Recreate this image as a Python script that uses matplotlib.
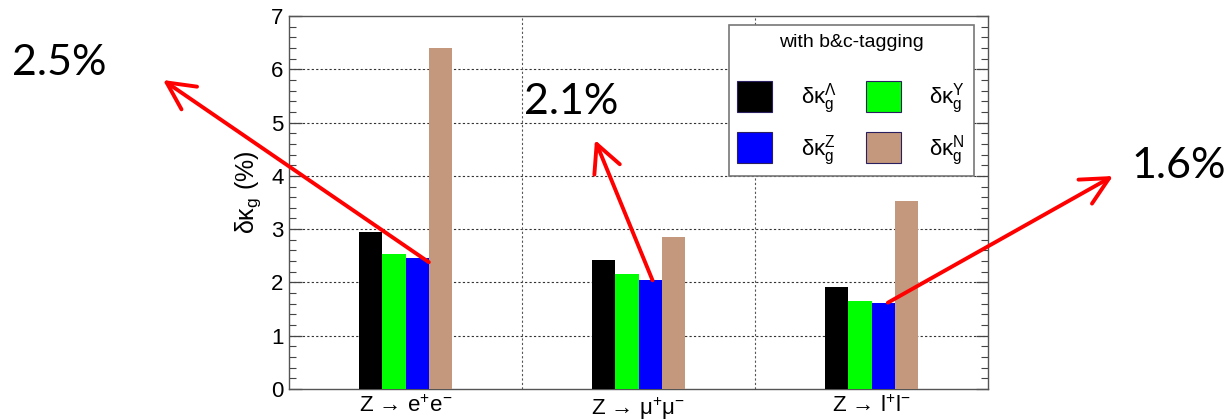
import matplotlib
matplotlib.use("Agg")

import numpy as np
import matplotlib.pyplot as plt
from matplotlib.patches import Patch
from matplotlib.ticker import MultipleLocator

plt.rcParams['font.family'] = ['Liberation Sans', 'DejaVu Sans']
plt.rcParams['mathtext.fontset'] = 'custom'
plt.rcParams['mathtext.rm'] = 'Liberation Sans'
plt.rcParams['mathtext.it'] = 'Liberation Sans:italic'

# -------------------------------
# Data
# -------------------------------
channels = ['Z → e$^{+}$e$^{-}$', 'Z → μ$^{+}$μ$^{-}$', 'Z → l$^{+}$l$^{-}$']
kappa_lambda = [2.94, 2.43, 1.92]
kappa_y = [2.53, 2.15, 1.66]
kappa_z = [2.45, 2.05, 1.61]
kappa_n = [6.40, 2.85, 3.53]

series_labels = [r'δκ$_{\rm g}^{\Lambda}$', r'δκ$_{\rm g}^{\rm Y}$',
                 r'δκ$_{\rm g}^{\rm Z}$', r'δκ$_{\rm g}^{\rm N}$']
colors = ['#000000', '#00ff00', '#0000ff', '#c4987c']

callouts = ['2.5%', '2.1%', '1.6%']

# -------------------------------
# Plot
# -------------------------------
fig = plt.figure(figsize=(12.32, 4.2), dpi=100)
ax = fig.add_axes([0.2346, 0.0738, 0.5674, 0.8881])

x = np.arange(len(channels)) + 0.5
width = 0.1
values = [kappa_lambda, kappa_y, kappa_z, kappa_n]
for i, vals in enumerate(values):
    ax.bar(x + (i - 1.5) * width, vals, width, color=colors[i],
           edgecolor='none', zorder=3)

ax.set_xlim(0, 3)
ax.set_ylim(0, 7)
ax.set_xticks(x)
ax.set_xticklabels(channels, fontsize=16)
ax.tick_params(axis='x', length=0, pad=5)

ax.yaxis.set_major_locator(MultipleLocator(1))
ax.yaxis.set_minor_locator(MultipleLocator(0.2))
ax.tick_params(axis='y', which='both', direction='in', left=True, right=True,
               labelsize=16, pad=4, color='#444444')
ax.tick_params(axis='y', which='major', length=9, width=0.9)
ax.tick_params(axis='y', which='minor', length=5, width=0.8)

# grid: horizontal at integer values, vertical between channels
for yv in range(1, 7):
    ax.axhline(yv, color='#333333', lw=0.8, ls=(0, (2, 2)), zorder=1)
for xv in [1, 2]:
    ax.axvline(xv, color='#555555', lw=0.8, ls=(0, (2, 2)), zorder=1)

for sp in ax.spines.values():
    sp.set_color('#555555')
    sp.set_linewidth(1.0)

ax.set_ylabel('δκ$_{\\rm g}$ (%)', fontsize=18)
ax.yaxis.set_label_coords(-0.037, 0.528)

handles = [Patch(facecolor=c, edgecolor='#2a2060', linewidth=0.8) for c in colors]
order = [0, 2, 1, 3]
leg = ax.legend([handles[k] for k in order], [series_labels[k] for k in order],
                ncol=2, title='with b&c-tagging', title_fontsize=14,
                fontsize=16, loc='upper right', bbox_to_anchor=(0.98, 0.976),
                handlelength=1.56, handleheight=1.75, handletextpad=1.3,
                columnspacing=1.3, labelspacing=0.72, borderpad=0.4,
                borderaxespad=0, frameon=True, fancybox=False, framealpha=1)
leg.get_frame().set_edgecolor('#777777')
leg.get_frame().set_linewidth(1.2)
leg._legend_box.sep = 22

# -------------------------------
# Callout texts and arrows
# -------------------------------
callout_font = ['Lato', 'DejaVu Sans']
fig.text(12 / 1232, 1 - 63 / 420, callouts[0], fontsize=31, va='center',
         ha='left', family=callout_font)
fig.text(524 / 1232, 1 - 102 / 420, callouts[1], fontsize=31, va='center',
         ha='left', family=callout_font)
fig.text(1226 / 1232, 1 - 166 / 420, callouts[2], fontsize=31, va='center',
         ha='right', family=callout_font)

arrow_starts = [(0.60, 2.38), (1.56, 2.04), (2.57, 1.62)]
arrow_heads = [(163 / 1232, 1 - 80 / 420), (595 / 1232, 1 - 140 / 420),
               (1113 / 1232, 1 - 176 / 420)]
for start, head in zip(arrow_starts, arrow_heads):
    ax.annotate('', xy=head, xycoords='figure fraction',
                xytext=start, textcoords='data',
                arrowprops=dict(arrowstyle='->,head_length=0.9,head_width=0.45',
                                color='#ff0000', lw=2.8, mutation_scale=22,
                                shrinkA=0, shrinkB=0),
                annotation_clip=False, zorder=10)

fig.savefig('out.png', dpi=100)
